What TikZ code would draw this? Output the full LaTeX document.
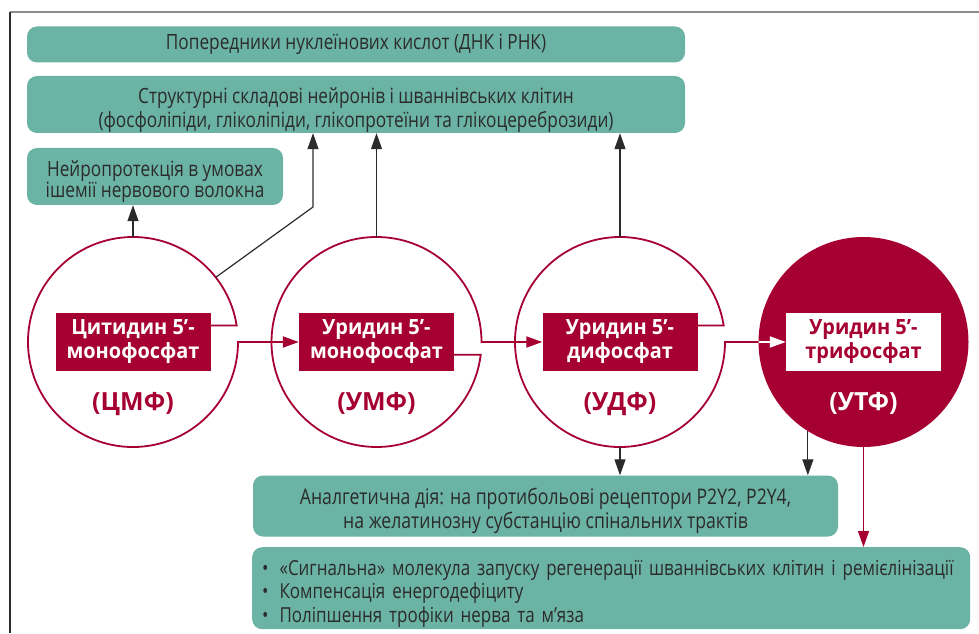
\documentclass[tikz,border=0pt]{standalone}
\usepackage{fontspec}
\setmainfont{Open Sans}
\newfontfamily\condfont{Open Sans}[FakeStretch=0.82]
\newfontfamily\heavyfont{Open Sans}[FakeStretch=0.95]
\usetikzlibrary{arrows.meta,positioning,calc}
\definecolor{Crimson}{HTML}{A60033}
\definecolor{Sea}{HTML}{6BB3A5}
\definecolor{Ink}{HTML}{2B2B2B}
\definecolor{Frame}{HTML}{8C8C8C}
\newcommand\topstrut{\rule{0pt}{1.25em}}

\begin{document}
\begin{tikzpicture}[x=1pt,y=1pt,
    tip/.style={-{Triangle[length=16pt,width=11pt]}},
    greenbox/.style={rounded corners=10pt,fill=Sea,text=Ink,align=center,inner sep=0pt,
      font=\condfont\fontsize{21}{24}\selectfont},
    ring/.style={circle,minimum size=210pt,inner sep=0pt,outer sep=0pt},
    nucbox/.style={fill=Crimson,text=white,minimum width=155pt,minimum height=58pt,
      inner sep=0pt,align=center,font=\heavyfont\bfseries\fontsize{21}{24}\selectfont},
    short/.style={text=Crimson,inner sep=0pt,font=\bfseries\fontsize{25}{25}\selectfont},
    link/.style={Ink,line width=1.2pt,tip},
    flow/.style={Crimson,line width=1.8pt}]
  \useasboundingbox (0,0) rectangle (979,633);
  % frame
  \draw[Frame,line width=1.6pt] (10,621) -- (979,621);
  \draw[Ink,line width=1.2pt] (10,621) -- (10,0);

  % green boxes
  \node[greenbox,minimum width=658pt,minimum height=36pt] (nucl) at (356,588.5)
        {Попередники нуклеїнових кислот (ДНК і РНК)};
  \node[greenbox,minimum width=658pt,minimum height=57pt] (struct) at (356,528.5)
        {\topstrut Структурні складові нейронів і шваннівських клітин\\
         (фосфоліпіди, гліколіпіди, глікопротеїни та глікоцереброзиди)};
  \node[greenbox,minimum width=256pt,minimum height=57pt,
        font=\condfont\fontsize{21}{21}\selectfont] (neuro) at (155,456.5)
        {\topstrut Нейропротекція в умовах\\ішемії нервового волокна};
  \node[greenbox,minimum width=585pt,minimum height=61pt,
        font=\condfont\fontsize{21.5}{24}\selectfont] (analg) at (545.5,127)
        {\topstrut Аналгетична дія: на протибольові рецептори P2Y2, P2Y4,\\
         на желатинозну субстанцію спінальних трактів};
  \node[greenbox,anchor=north west,align=left,text width=698pt,inner xsep=10pt,
        minimum height=82pt,font=\condfont\fontsize{20.7}{23.5}\selectfont] (effects) at (252,86)
        {\topstrut•\hspace{11pt}«Сигнальна» молекула запуску регенерації шваннівських клітин і ремієлінізації\\
         •\hspace{11pt}Компенсація енергодефіциту\\
         •\hspace{11pt}Поліпшення трофіки нерва та м’яза};

  % nucleotides
  \node[ring] (cmf) at (133,291) {};
  \node[ring] (umf) at (376.5,291) {};
  \node[ring] (udf) at (620,291) {};
  \node[ring,fill=Crimson] (utf) at (863.5,291) {};
  \node[nucbox] (cmfbox) at (cmf) {Цитидин 5’-\\монофосфат};
  \node[nucbox] (umfbox) at (umf) {Уридин 5’-\\монофосфат};
  \node[nucbox] (udfbox) at (udf) {Уридин 5’-\\дифосфат};
  \node[nucbox,fill=white,text=Crimson] (utfbox) at (utf) {Уридин 5’-\\трифосфат};
  \node[short,below=21pt of cmfbox] (cmfname) {(ЦМФ)};
  \node[short,below=21pt of umfbox] (umfname) {(УМФ)};
  \node[short,below=21pt of udfbox] (udfname) {(УДФ)};
  \node[short,below=21pt of utfbox,text=white] (utfname) {(УТФ)};

  % conversion chain
  \draw[flow,tip] (cmfbox.east |- cmf.9) -- (cmf.9)
        arc[start angle=9,end angle=360,radius=105] -- (umfbox.west);
  \draw[flow,tip] (umfbox.east |- umf.-7) -- (umf.-7)
        arc[start angle=-7,end angle=-360,radius=105] -- (udfbox.west);
  \draw[flow] (udfbox.east |- udf.9) -- (udf.9)
        arc[start angle=9,end angle=360,radius=105] -- (utf.west);
  \draw[white,line width=1.8pt,tip] (utf.west) -- (utfbox.west);

  % effects
  \coordinate (knee) at (313,426);
  \draw[link] (cmf.north) -- (cmf.north |- neuro.south);
  \draw[link] (cmf.38) -- (knee) -- (knee |- struct.south);
  \draw[link] (umf.north) -- (umf.north |- struct.south);
  \draw[link] (udf.north) -- (udf.north |- struct.south);
  \draw[link] (udf.south) -- (udf.south |- analg.north);
  \draw[link] (utf.238) -- (utf.238 |- analg.north);
  \draw[flow,line width=1.2pt,tip] (utf.south) -- (utf.south |- effects.north);
\end{tikzpicture}
\end{document}
